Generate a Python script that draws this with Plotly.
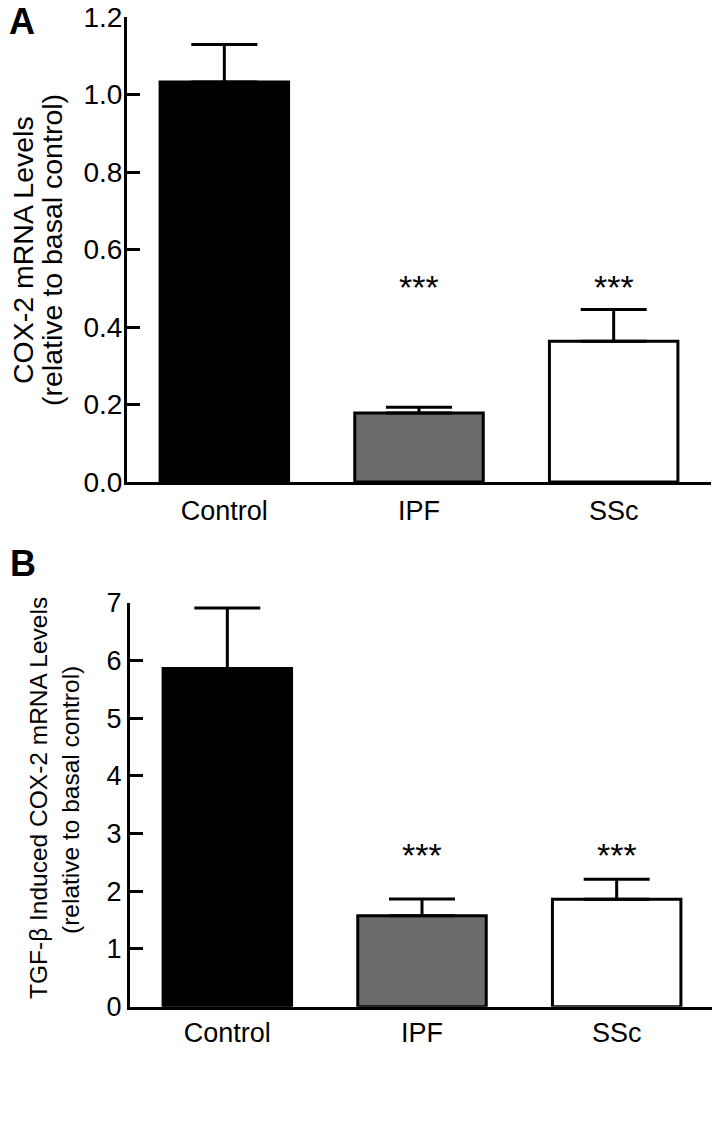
import plotly.graph_objects as go

W, H = 720, 1124
OFF = 8  # default page body margin in the written HTML
FW, FH = W - OFF, H - OFF

categories = ["Control", "IPF", "SSc"]
bar_colors = ["#000000", "#6b6b6b", "#ffffff"]

# Panel A: COX-2 mRNA levels
a_values = [1.032, 0.178, 0.363]
a_err_top = [1.129, 0.193, 0.445]
a_sig = ["", "***", "***"]
a_star_level = 0.503

# Panel B: TGF-beta induced COX-2 mRNA levels
b_values = [5.86, 1.577, 1.86]
b_err_top = [6.91, 1.866, 2.21]
b_sig = ["", "***", "***"]
b_star_level = 2.62

FONT = "Liberation Sans, Arial, Helvetica, sans-serif"


def px(x):
    return (x - OFF) / FW


def py(y):
    return 1 - (y - OFF) / FH


fig = go.Figure()


def add_panel(values, err_top, xa, ya):
    fig.add_trace(go.Bar(
        x=categories, y=values, xaxis=xa, yaxis=ya,
        width=0.66,
        marker=dict(color=bar_colors, line=dict(color="black", width=3)),
        error_y=dict(type="data", symmetric=False,
                     array=[t - v for t, v in zip(err_top, values)],
                     arrayminus=[0] * len(values),
                     color="black", thickness=3, width=33),
        showlegend=False,
    ))


add_panel(a_values, a_err_top, "x", "y")
add_panel(b_values, b_err_top, "x2", "y2")

axis_common = dict(showline=True, linewidth=3, linecolor="black",
                   showgrid=False, zeroline=False, automargin=False,
                   ticklabeloverflow="allow")
xfont = dict(family=FONT, size=27, color="black")

fig.update_layout(
    width=FW, height=FH,
    margin=dict(l=0, r=0, t=0, b=0),
    paper_bgcolor="white", plot_bgcolor="white",
    xaxis=dict(domain=[px(127), px(711)], anchor="y", range=[-0.5, 2.5],
               ticks="", tickfont=xfont, ticklabelstandoff=3, **axis_common),
    yaxis=dict(domain=[py(482), py(17)], anchor="x", range=[0, 1.2],
               dtick=0.2, tickformat=".1f", ticks="inside", ticklen=13,
               tickwidth=3, tickcolor="black", ticklabelstandoff=-4,
               tickfont=dict(family=FONT, size=28, color="black"), **axis_common),
    xaxis2=dict(domain=[px(130), px(714)], anchor="y2", range=[-0.5, 2.5],
                ticks="", tickfont=xfont, **axis_common),
    yaxis2=dict(domain=[py(1006.7), py(602.7)], anchor="x2", range=[0, 7],
                dtick=1, ticks="inside", ticklen=13,
                tickwidth=3, tickcolor="black",
                tickfont=dict(family=FONT, size=27, color="black"), **axis_common),
)

annotations = []
for cat, s in zip(categories, a_sig):
    if s:
        annotations.append(dict(x=cat, y=a_star_level, xref="x", yref="y", text=s,
                                xanchor="center", yanchor="middle", showarrow=False,
                                font=dict(family=FONT, size=34, color="black")))
for cat, s in zip(categories, b_sig):
    if s:
        annotations.append(dict(x=cat, y=b_star_level, xref="x2", yref="y2", text=s,
                                xanchor="center", yanchor="middle", showarrow=False,
                                font=dict(family=FONT, size=34, color="black")))


def label(x, y, text, size, angle=0):
    return dict(x=px(x), y=py(y), xref="paper", yref="paper", text=text,
                xanchor="center", yanchor="middle", textangle=angle,
                showarrow=False, font=dict(family=FONT, size=size, color="black"))


annotations += [
    label(22, 21.5, "<b>A</b>", 36),
    label(23, 563, "<b>B</b>", 36),
    label(23, 250, "COX-2 mRNA Levels", 28.5, -90),
    label(52, 250, "(relative to basal control)", 28.5, -90),
    label(38, 798, "TGF-β Induced COX-2 mRNA Levels", 24.5, -90),
    label(70, 800, "(relative to basal control)", 24.5, -90),
]
fig.update_layout(annotations=annotations)

fig.write_html("out.html")
